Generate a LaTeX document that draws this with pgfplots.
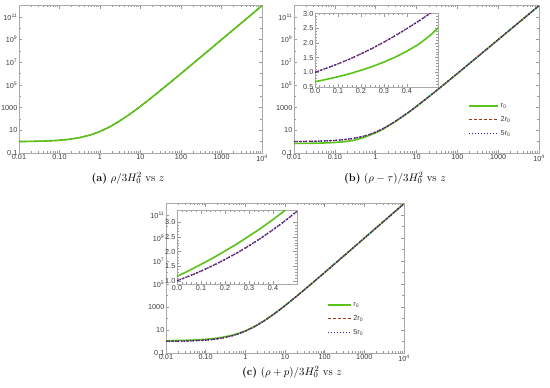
\documentclass[border=0pt]{standalone}
\usepackage{pgfplots}
\pgfplotsset{compat=1.18}
\usepackage{pgfplotstable}
\usepackage{fontspec}
\newfontfamily\lab{Liberation Sans}
\definecolor{grn}{RGB}{90,195,25}
\definecolor{brn}{RGB}{160,55,20}
\definecolor{blu}{RGB}{30,30,210}
\definecolor{frm}{RGB}{170,170,170}
\definecolor{tlab}{RGB}{60,60,60}

\pgfplotstableread{
z y
0.01 1.0303
0.02 1.0612
0.03 1.0927
0.05 1.1576
0.07 1.2250
0.1 1.331
0.15 1.5209
0.2 1.728
0.3 2.197
0.5 3.375
0.7 4.913
1 8
1.5 15.625
2 27
3 64
5 216
7 512
10 1331
20 9261
30 29791
50 132651
100 1030301
200 8120601
500 1.2575e8
1000 1.003e9
2000 8.012e9
5000 1.2508e11
10000 1.0003e12
}\tcube

\pgfplotstableread{
z y
0.01 0.695
0.02 0.71
0.03 0.725
0.05 0.76
0.07 0.795
0.1 0.85
0.15 0.95
0.2 1.07
0.3 1.35
0.5 2.25
0.7 3.6
1 6.0
1.5 12.5
2 23.5
3 58
5 205
7 495
10 1300
20 9200
30 29700
50 132500
100 1030000
200 8120000
500 1.2575e8
1000 1.003e9
2000 8.012e9
5000 1.2508e11
10000 1.0003e12
}\tgb

\pgfplotstableread{
z y
0.01 1.027
0.02 1.055
0.03 1.083
0.05 1.14
0.07 1.20
0.1 1.29
0.15 1.45
0.2 1.63
0.3 2.03
0.5 3.0
0.7 4.3
1 7.0
1.5 14.0
2 25
3 61
5 210
7 500
10 1310
20 9220
30 29750
50 132600
100 1030301
200 8120601
500 1.2575e8
1000 1.003e9
2000 8.012e9
5000 1.2508e11
10000 1.0003e12
}\tdb

\pgfplotstableread{
z y
0.01 1.19
0.02 1.23
0.03 1.27
0.05 1.348
0.07 1.43
0.1 1.561
0.15 1.781
0.2 2.018
0.3 2.527
0.5 3.745
0.7 5.35
1 8.5
1.5 16.2
2 27.7
3 65
5 218
7 515
10 1336
20 9270
30 29800
50 132660
100 1030301
200 8120601
500 1.2575e8
1000 1.003e9
2000 8.012e9
5000 1.2508e11
10000 1.0003e12
}\tgc

\pgfplotstableread{
z y
0 0.68
0.05 0.76
0.1 0.85
0.15 0.95
0.2 1.07
0.25 1.20
0.3 1.35
0.35 1.52
0.4 1.72
0.45 1.95
0.5 2.25
0.55 2.62
}\tigb

\pgfplotstableread{
z y
0 1.0
0.05 1.14
0.1 1.29
0.15 1.45
0.2 1.63
0.25 1.82
0.3 2.03
0.35 2.25
0.4 2.49
0.45 2.74
0.5 3.0
0.55 3.28
}\tidb

\pgfplotstableread{
z y
0 1.15
0.05 1.348
0.1 1.561
0.15 1.781
0.2 2.018
0.25 2.263
0.3 2.527
0.35 2.80
0.4 3.094
0.45 3.409
0.5 3.745
}\tigc

\pgfplotstableread{
z y
0 1.0
0.05 1.1576
0.1 1.331
0.15 1.5209
0.2 1.728
0.25 1.9531
0.3 2.197
0.35 2.4604
0.4 2.744
0.45 3.0486
0.5 3.375
}\tidc

\pgfplotsset{
  every axis/.append style={
    scale only axis,
    axis line style={draw=frm},
    tick style={draw=frm!90!black, line width=0.4bp},
    tick align=inside,
    major tick length=3.5bp,
    minor tick length=2bp,
    tick label style={font=\lab\fontsize{7.3}{8}\selectfont, text=tlab},
    xticklabel style={inner sep=1.5bp},
    yticklabel style={inner sep=1.5bp},
  },
}

\begin{document}
\begin{tikzpicture}
\useasboundingbox (0,0) rectangle (550bp,-388bp);

% (a)
\begin{axis}[xmode=log, ymode=log,
    xmin=0.01, xmax=10000, ymin=0.1, ymax=1.15e12,
    xtick={0.01,0.1,1,10,100,1000,10000},
    xticklabels={0.01,0.10,1,10,100,1000,10\textsuperscript{4}},
    ytick={0.1,10,1000,1e5,1e7,1e9,1e11},
    yticklabels={0.1,10,1000,10\textsuperscript{5},10\textsuperscript{7},10\textsuperscript{9},10\textsuperscript{11}},
    minor xtick={0.02,0.03,0.04,0.05,0.06,0.07,0.08,0.09,0.2,0.3,0.4,0.5,0.6,0.7,0.8,0.9,2,3,4,5,6,7,8,9,20,30,40,50,60,70,80,90,200,300,400,500,600,700,800,900,2000,3000,4000,5000,6000,7000,8000,9000},
    minor ytick={1,100,1e4,1e6,1e8,1e10,1e12},
    at={(19bp,-153bp)}, anchor=south west, width=243bp, height=148bp]
\addplot[color=brn, line width=1.2bp, dash pattern=on 3bp off 2bp] table {\tcube};
\addplot[color=grn, line width=1.6bp] table {\tcube};
\end{axis}

% (b)
\begin{axis}[xmode=log, ymode=log,
    xmin=0.01, xmax=10000, ymin=0.1, ymax=1.15e12,
    xtick={0.01,0.1,1,10,100,1000,10000},
    xticklabels={0.01,0.10,1,10,100,1000,10\textsuperscript{4}},
    ytick={0.1,10,1000,1e5,1e7,1e9,1e11},
    yticklabels={0.1,10,1000,10\textsuperscript{5},10\textsuperscript{7},10\textsuperscript{9},10\textsuperscript{11}},
    minor xtick={0.02,0.03,0.04,0.05,0.06,0.07,0.08,0.09,0.2,0.3,0.4,0.5,0.6,0.7,0.8,0.9,2,3,4,5,6,7,8,9,20,30,40,50,60,70,80,90,200,300,400,500,600,700,800,900,2000,3000,4000,5000,6000,7000,8000,9000},
    minor ytick={1,100,1e4,1e6,1e8,1e10,1e12},
  at={(294bp,-153bp)}, anchor=south west, width=245bp, height=148bp,
  legend style={draw=none, fill=none, at={(0.71,0.35)}, anchor=north west,
    font=\lab\fontsize{7.3}{8}\selectfont\color{tlab}, row sep=3.5bp, inner sep=0pt},
  legend cell align=left,
  legend image code/.code={\draw[#1] (0bp,0bp) -- (29bp,0bp);}]
\addplot[color=grn, line width=1.6bp] table {\tgb};
\addlegendentry{r\textsubscript{0}}
\addplot[color=brn, line width=1.2bp, dash pattern=on 3bp off 2bp] table {\tdb};
\addlegendentry{2r\textsubscript{0}}
\addplot[color=blu, line width=1.4bp, dash pattern=on 1.1bp off 1.9bp] table {\tdb};
\addlegendentry{5r\textsubscript{0}}
\end{axis}
\begin{axis}[axis background/.style={fill=white},
  at={(315bp,-87bp)}, anchor=south west, width=123bp, height=74bp,
  xmin=0, xmax=0.535, ymin=0.5, ymax=3.02,
  xtick={0,0.1,0.2,0.3,0.4}, xticklabels={0.0,0.1,0.2,0.3,0.4},
  minor x tick num=4, minor y tick num=4,
  ytick={0.5,1,1.5,2,2.5,3}, yticklabels={0.5,1.0,1.5,2.0,2.5,3.0}]
\addplot[color=grn, line width=1.6bp] table {\tigb};
\addplot[color=brn, line width=1.2bp, dash pattern=on 3bp off 2bp] table {\tidb};
\addplot[color=blu, line width=1.4bp, dash pattern=on 1.1bp off 1.9bp] table {\tidb};
\end{axis}

% (c)
\begin{axis}[xmode=log, ymode=log,
    xmin=0.01, xmax=10000, ymin=0.1, ymax=1.15e12,
    xtick={0.01,0.1,1,10,100,1000,10000},
    xticklabels={0.01,0.10,1,10,100,1000,10\textsuperscript{4}},
    ytick={0.1,10,1000,1e5,1e7,1e9,1e11},
    yticklabels={0.1,10,1000,10\textsuperscript{5},10\textsuperscript{7},10\textsuperscript{9},10\textsuperscript{11}},
    minor xtick={0.02,0.03,0.04,0.05,0.06,0.07,0.08,0.09,0.2,0.3,0.4,0.5,0.6,0.7,0.8,0.9,2,3,4,5,6,7,8,9,20,30,40,50,60,70,80,90,200,300,400,500,600,700,800,900,2000,3000,4000,5000,6000,7000,8000,9000},
    minor ytick={1,100,1e4,1e6,1e8,1e10,1e12},
  at={(166bp,-353bp)}, anchor=south west, width=238bp, height=150bp,
  legend style={draw=none, fill=none, at={(0.675,0.3533)}, anchor=north west,
    font=\lab\fontsize{7.3}{8}\selectfont\color{tlab}, row sep=3.5bp, inner sep=0pt},
  legend cell align=left,
  legend image code/.code={\draw[#1] (0bp,0bp) -- (23bp,0bp);}]
\addplot[color=grn, line width=1.6bp] table {\tgc};
\addlegendentry{r\textsubscript{0}}
\addplot[color=brn, line width=1.2bp, dash pattern=on 3bp off 2bp] table {\tcube};
\addlegendentry{2r\textsubscript{0}}
\addplot[color=blu, line width=1.4bp, dash pattern=on 1.1bp off 1.9bp] table {\tcube};
\addlegendentry{5r\textsubscript{0}}
\end{axis}
\begin{axis}[axis background/.style={fill=white},
  at={(177bp,-284bp)}, anchor=south west, width=120bp, height=74bp,
  xmin=0, xmax=0.5, ymin=0.89, ymax=3.42,
  xtick={0,0.1,0.2,0.3,0.4}, xticklabels={0.0,0.1,0.2,0.3,0.4},
  minor x tick num=4, minor y tick num=4,
  ytick={1,1.5,2,2.5,3}, yticklabels={1.0,1.5,2.0,2.5,3.0}]
\addplot[color=grn, line width=1.6bp] table {\tigc};
\addplot[color=brn, line width=1.2bp, dash pattern=on 3bp off 2bp] table {\tidc};
\addplot[color=blu, line width=1.4bp, dash pattern=on 1.1bp off 1.9bp] table {\tidc};
\end{axis}

% captions
\node[font=\fontsize{11}{13}\selectfont] at (128bp,-178bp) {\textbf{(a)} $\rho/3H_0^2$ vs $z$};
\node[font=\fontsize{11}{13}\selectfont] at (395bp,-178bp) {\textbf{(b)} $(\rho-\tau)/3H_0^2$ vs $z$};
\node[font=\fontsize{11}{13}\selectfont] at (292bp,-372bp) {\textbf{(c)} $(\rho+p)/3H_0^2$ vs $z$};
\end{tikzpicture}
\end{document}
